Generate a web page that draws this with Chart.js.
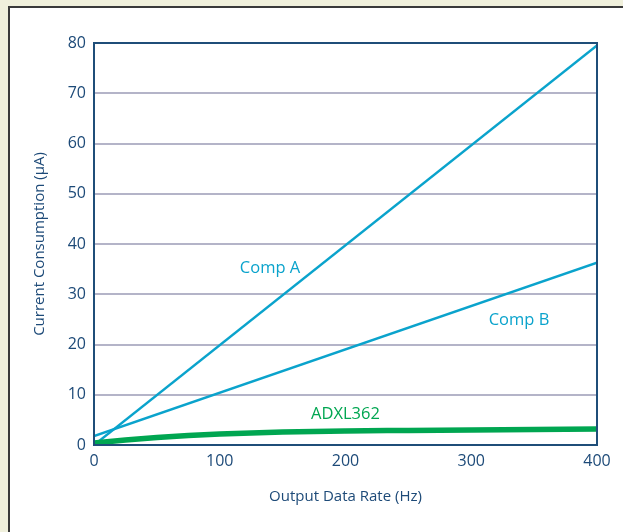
<!DOCTYPE html>
<html>
<head>
<meta charset="utf-8">
<script src="https://cdn.jsdelivr.net/npm/chart.js@4"></script>
<style>
  html, body { margin: 0; padding: 0; }
  body { width: 623px; height: 532px; background: #f0f0dc; position: relative; overflow: hidden; }
  #panel { position: absolute; left: 8px; top: 6px; width: 700px; height: 600px; background: #fff; border-left: 2px solid #3a3a3a; border-top: 2px solid #3a3a3a; }
  #wrap { position: absolute; left: 0; top: 0; width: 623px; height: 532px; }
</style>
</head>
<body>
<div id="panel"></div>
<div id="wrap"><canvas id="myChart"></canvas></div>
<script>
// Output data rate (Hz)
const rates = [0, 400];
const compA = [0, 79.5];
const compB = [1.8, 36.3];

const adxlRates = [0, 25, 50, 75, 100, 150, 200, 250, 300, 350, 400];
const adxl362 = [0.4, 1.0, 1.5, 1.9, 2.2, 2.6, 2.8, 2.9, 3.0, 3.1, 3.2];

const yTicks = [0, 10, 20, 30, 40, 50, 60, 70, 80];
const xTicks = [0, 100, 200, 300, 400];

const labels = [
  { text: 'Comp A', x: 140, y: 35.2, color: '#0aa3cc' },
  { text: 'Comp B', x: 338, y: 24.9, color: '#0aa3cc' },
  { text: 'ADXL362', x: 200, y: 6.2, color: '#00a651' }
];

const FONT = "'Open Sans', 'Noto Sans', sans-serif";
const TEXT_COLOR = '#1d4a78';
const AXIS_COLOR = '#1f4e79';

function toPoints(xs, ys) {
  return xs.map((x, i) => ({ x: x, y: ys[i] }));
}

// frame around the plot + line labels
const framePlugin = {
  id: 'frame',
  afterDatasetsDraw(chart) {
    const { ctx, chartArea, scales } = chart;
    ctx.save();
    ctx.strokeStyle = AXIS_COLOR;
    ctx.lineWidth = 2;
    ctx.strokeRect(chartArea.left, chartArea.top, chartArea.right - chartArea.left, chartArea.bottom - chartArea.top);
    ctx.font = '16.5px ' + FONT;
    ctx.textAlign = 'center';
    ctx.textBaseline = 'middle';
    labels.forEach((l) => {
      ctx.fillStyle = l.color;
      ctx.fillText(l.text, scales.x.getPixelForValue(l.x), scales.y.getPixelForValue(l.y));
    });
    ctx.restore();
  }
};

const ctx = document.getElementById('myChart').getContext('2d');
const myChart = new Chart(ctx, {
  type: 'scatter',
  data: {
    datasets: [
      {
        label: 'ADXL362',
        data: toPoints(adxlRates, adxl362),
        showLine: true,
        borderColor: '#00a651',
        borderWidth: 5.5,
        pointRadius: 0,
        cubicInterpolationMode: 'monotone'
      },
      {
        label: 'Comp A',
        data: toPoints(rates, compA),
        showLine: true,
        borderColor: '#0aa3cc',
        borderWidth: 2.5,
        pointRadius: 0
      },
      {
        label: 'Comp B',
        data: toPoints(rates, compB),
        showLine: true,
        borderColor: '#0aa3cc',
        borderWidth: 2.5,
        pointRadius: 0
      }
    ]
  },
  options: {
    responsive: true,
    maintainAspectRatio: false,
    animation: false,
    layout: { padding: { left: 0, top: 43, right: 26, bottom: 0 } },
    plugins: {
      legend: { display: false },
      tooltip: { enabled: false }
    },
    scales: {
      x: {
        type: 'linear',
        min: 0,
        max: 400,
        afterFit(scale) { scale.height = 87; },
        afterBuildTicks(scale) { scale.ticks = xTicks.map(v => ({ value: v })); },
        grid: { display: false, drawTicks: false },
        border: { display: false },
        ticks: { color: TEXT_COLOR, font: { family: FONT, size: 16 }, padding: 7 },
        title: {
          display: true,
          text: 'Output Data Rate (Hz)',
          color: TEXT_COLOR,
          font: { family: FONT, size: 15 },
          padding: { top: 0, bottom: 26 }
        }
      },
      y: {
        type: 'linear',
        min: 0,
        max: 80,
        afterFit(scale) { scale.width = 94; },
        afterBuildTicks(scale) { scale.ticks = yTicks.map(v => ({ value: v })); },
        grid: { color: '#b4b4c8', lineWidth: 2, drawTicks: false },
        border: { display: false },
        ticks: { color: TEXT_COLOR, font: { family: FONT, size: 16 }, padding: 8 },
        title: {
          display: true,
          text: 'Current Consumption (μA)',
          color: TEXT_COLOR,
          font: { family: FONT, size: 15 },
          padding: { top: 31, bottom: 0 }
        }
      }
    }
  },
  plugins: [framePlugin]
});
</script>
</body>
</html>
